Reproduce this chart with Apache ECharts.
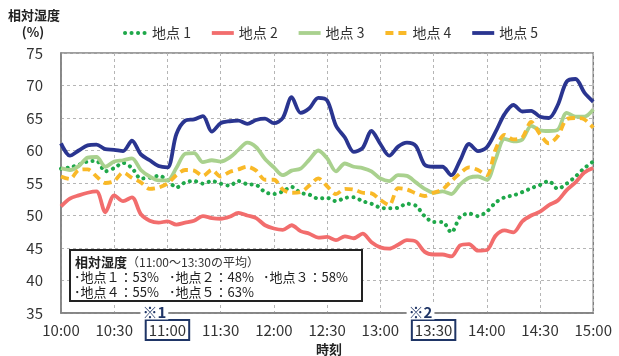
<!DOCTYPE html>
<html><head><meta charset="utf-8">
<script src="https://cdn.jsdelivr.net/npm/echarts@6/dist/echarts.min.js"></script>
<style>html,body{margin:0;padding:0;background:#fff}#c{width:619px;height:356px}</style>
</head><body><div id="c"></div>
<script>
// time categories every 5 minutes, 10:00 - 15:00
const times = [];
for (let m = 0; m <= 300; m += 5) {
  const h = 10 + Math.floor(m / 60), mm = m % 60;
  times.push(h + ':' + String(mm).padStart(2, '0'));
}
const tickLabels = ['10:00','10:30','11:00','11:30','12:00','12:30','13:00','13:30','14:00','14:30','15:00'];
const boxedLabels = ['11:00', '13:30'];
const boxedMarks = ['※1', '※2'];
const yTicks = [35, 40, 45, 50, 55, 60, 65, 70, 75];

const seriesNames = ['地点 1', '地点 2', '地点 3', '地点 4', '地点 5'];

const site1 = [57.2,57.4,57.8,58.3,58.4,56.8,57.3,58.1,57.3,55.7,
  55.8,56.1,55.5,54.3,55.1,55.3,54.9,55.3,54.9,54.6,
  55.3,54.8,54.7,53.6,53.3,53.7,54.4,53.5,53.2,52.6,
  52.7,52.2,52.7,52.8,52.2,51.8,51.2,51.1,51.2,51.8,
  51.5,49.9,49.0,49.0,47.4,49.8,50.3,49.9,50.6,52.0,
  52.8,53.1,53.6,54.2,54.7,55.3,54.1,54.9,56.0,57.3,58.3];
const site2 = [51.4,52.6,53.1,53.5,53.7,50.5,53.1,52.2,52.8,50.2,
  49.2,48.9,49.1,48.6,48.9,49.2,49.9,49.6,49.5,49.8,
  50.4,50.0,49.6,48.5,48.0,47.8,48.5,47.6,47.2,46.6,
  46.7,46.2,46.8,46.5,47.2,45.9,45.1,44.9,45.5,46.2,
  46.0,44.4,44.0,44.0,43.7,45.4,45.6,44.6,44.7,46.9,
  47.7,47.4,49.1,50.0,50.6,51.6,52.3,53.9,55.1,56.6,57.3];
const site3 = [57.3,57.0,57.6,58.9,59.0,57.5,58.3,58.5,58.8,57.0,
  56.0,55.4,55.4,57.3,59.5,59.6,58.2,58.5,58.3,58.9,
  60.1,61.2,60.5,58.7,57.4,56.2,56.9,57.2,58.6,60.0,
  58.8,56.8,58.0,57.5,57.3,56.8,55.7,55.3,56.2,56.1,
  55.1,54.1,53.5,53.7,53.3,54.8,55.8,56.0,55.5,58.7,
  61.8,61.4,61.7,63.8,63.1,63.0,63.2,65.8,65.2,65.2,66.3];
const site4 = [56.0,55.6,57.0,57.1,56.0,55.0,55.3,56.6,55.8,55.1,
  54.1,54.3,54.9,56.2,57.0,56.9,56.1,57.0,56.0,56.7,
  57.1,57.5,56.9,55.5,55.5,54.0,53.5,53.6,54.6,55.7,
  54.5,53.3,54.1,54.0,53.5,53.4,52.4,51.6,54.2,54.0,
  53.4,53.0,53.5,54.0,55.3,56.5,57.4,57.0,56.2,60.2,
  62.4,61.7,62.0,64.4,62.5,61.1,62.2,64.8,65.0,64.8,63.5];
const site5 = [61.1,59.2,60.0,60.8,60.9,60.2,60.1,59.9,61.5,59.4,
  58.5,57.6,57.4,62.5,64.6,64.8,65.3,62.9,64.2,64.5,
  64.6,64.1,64.7,64.9,64.2,65.0,68.2,65.8,66.5,68.1,
  67.7,63.8,62.0,59.8,60.4,63.0,61.0,59.2,60.6,61.2,
  60.7,57.8,57.5,57.5,56.2,58.5,61.0,59.9,60.5,62.9,
  65.6,67.0,66.0,66.1,65.2,65.0,67.0,70.6,71.0,68.9,67.5];

// average box (11:00-13:30)
const avgTitle = '相対湿度';
const avgSub = '（11:00～13:30の平均）';
const avgNames = ['地点１', '地点２', '地点３', '地点４', '地点５'];
const avgValues = [53, 48, 58, 55, 63];

const FONT = "'Noto Sans CJK JP', 'Noto Sans', sans-serif";
const colors = ['#1FA84A', '#F26D6D', '#A9D18E', '#F9B928', '#2A3590'];
const lineTypes = [[0.1, 6.4], 'solid', 'solid', [8, 5], 'solid'];
const seriesData = [site1, site2, site3, site4, site5];

const chart = echarts.init(document.getElementById('c'), null, {renderer: 'canvas'});

const isTick = (idx) => tickLabels.indexOf(times[idx]) >= 0;

const avgGraphics = [];
avgGraphics.push({type: 'rect', z: 100, shape: {x: 70, y: 250, width: 292, height: 51},
  style: {fill: '#fff', stroke: '#222', lineWidth: 2}});
avgGraphics.push({type: 'text', z: 101, x: 75, y: 262,
  style: {text: '{b|' + avgTitle + '}{n|' + avgSub + '}', textVerticalAlign: 'middle',
    rich: {b: {fontFamily: FONT, fontSize: 13, fontWeight: 'bold', fill: '#222'},
           n: {fontFamily: FONT, fontSize: 12, fill: '#333'}}}});
const colX = [74, 169, 263];
avgNames.forEach((n, i) => {
  const row = i < 3 ? 0 : 1, col = i < 3 ? i : i - 3;
  avgGraphics.push({type: 'text', z: 101, x: colX[col], y: 277 + row * 15,
    style: {text: '･' + n + '：' + avgValues[i] + '%', fontFamily: FONT, fontSize: 13,
      fill: '#222', textVerticalAlign: 'middle'}});
});

const option = {
  animation: false,
  backgroundColor: '#fff',
  textStyle: {fontFamily: FONT},
  grid: {left: 61, right: 21, top: 53, bottom: 43, show: true, borderColor: '#7f7f7f', borderWidth: 1.5, backgroundColor: 'transparent'},
  legend: {
    left: 118, top: 21, itemWidth: 22, itemHeight: 12, itemGap: 19,
    itemStyle: {opacity: 0},
    lineStyle: {width: 'inherit'},
    textStyle: {fontFamily: FONT, fontSize: 14, color: '#333'},
    data: seriesNames
  },
  xAxis: {
    type: 'category', data: times, boundaryGap: false,
    axisLine: {lineStyle: {color: '#7f7f7f', width: 1.5}},
    axisTick: {show: false},
    axisLabel: {
      interval: (idx) => isTick(idx), margin: 7,
      formatter: (v) => boxedLabels.indexOf(v) >= 0 ? '{box|' + v + '}' : '{n|' + v + '}',
      rich: {
        box: {fontFamily: FONT, fontSize: 15, color: '#333', borderColor: '#1F3566', borderWidth: 2, padding: [3, 3, 2, 3]},
        n: {fontFamily: FONT, fontSize: 15, color: '#333', borderColor: 'transparent', borderWidth: 2, padding: [3, 3, 2, 3]}
      }
    },
    splitLine: {show: true, interval: (idx) => isTick(idx), lineStyle: {color: '#b5b5b5', type: [3, 3], width: 1}}
  },
  yAxis: {
    type: 'value', min: yTicks[0], max: yTicks[yTicks.length - 1], interval: 5,
    axisLine: {show: true, lineStyle: {color: '#7f7f7f', width: 1.5}},
    axisTick: {show: false},
    axisLabel: {fontFamily: FONT, fontSize: 15, color: '#333', margin: 18},
    splitLine: {lineStyle: {color: '#b5b5b5', type: [3, 3], width: 1}}
  },
  series: seriesNames.map((name, i) => ({
    name, type: 'line', data: seriesData[i], symbol: 'none', smooth: 0.3,
    lineStyle: {color: colors[i], width: i === 0 ? 4 : 3.8, type: lineTypes[i], cap: i === 0 ? 'round' : 'butt'},
    itemStyle: {color: colors[i]}, z: 2 + i
  })),
  graphic: [
    {type: 'text', x: 8, y: 15, style: {text: '相対湿度', fontFamily: FONT, fontSize: 13, fontWeight: 'bold', fill: '#222', textVerticalAlign: 'middle'}},
    {type: 'text', x: 33, y: 32, style: {text: '(%)', fontFamily: FONT, fontSize: 13, fontWeight: 'bold', fill: '#222', textAlign: 'center', textVerticalAlign: 'middle'}},
    {type: 'text', x: 329, y: 349, style: {text: '時刻', fontFamily: FONT, fontSize: 13, fontWeight: 'bold', fill: '#222', textAlign: 'center', textVerticalAlign: 'middle'}}
  ].concat(avgGraphics)
};
chart.setOption(option);

const markGraphics = boxedLabels.map((lab, i) => {
  const px = chart.convertToPixel({xAxisIndex: 0}, lab);
  const py = chart.convertToPixel({yAxisIndex: 0}, yTicks[0]);
  return {type: 'text', z: 50, x: px - 27, y: py - 1,
    style: {text: boxedMarks[i], fontFamily: FONT, fontSize: 15, fontWeight: 'bold', fill: '#1F3566',
      backgroundColor: '#fff', padding: [0, 2], textVerticalAlign: 'middle'}};
});
chart.setOption({graphic: option.graphic.concat(markGraphics)});
</script></body></html>
